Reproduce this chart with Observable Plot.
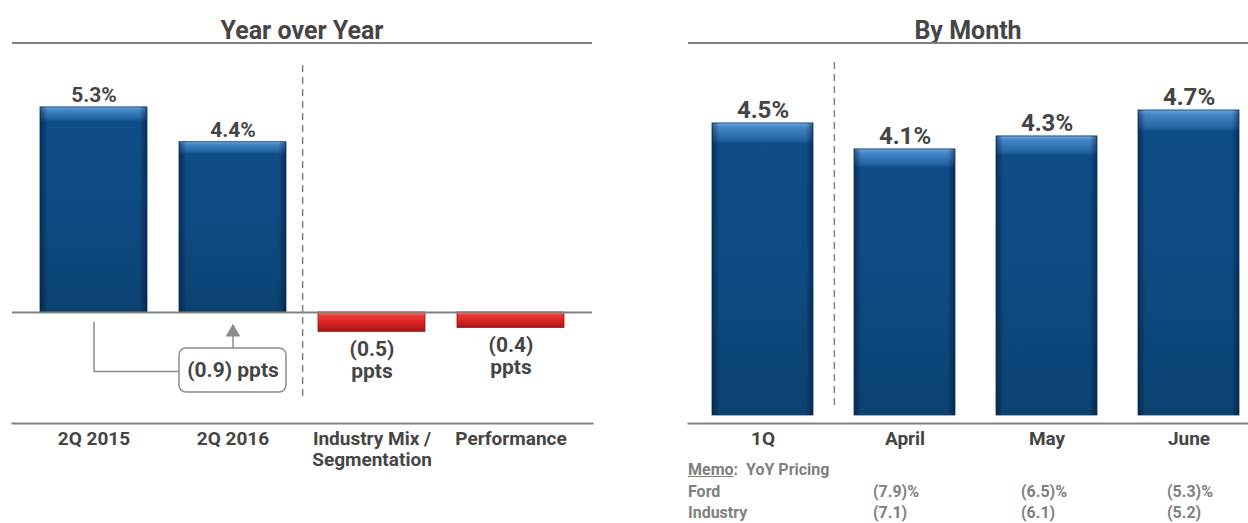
<!DOCTYPE html>
<html>
<head>
<meta charset="utf-8">
<script src="https://cdn.jsdelivr.net/npm/d3@7"></script>
<script src="https://cdn.jsdelivr.net/npm/@observablehq/plot@0.6"></script>
<style>
  html, body { margin: 0; padding: 0; background: #fff; }
  body { width: 1248px; height: 523px; position: relative; overflow: hidden;
         font-family: "Liberation Sans Narrow", "Roboto", "Liberation Sans", sans-serif; }
  .title { position: absolute; top: 16px; height: 30px; line-height: 30px; text-align: center;
           font-size: 25px; font-weight: bold; color: #454545; }
  .rule { position: absolute; top: 42px; height: 2px; background: #808080; }
  .chart { position: absolute; top: 50px; }
  .memo { position: absolute; font-size: 16px; font-weight: bold; color: #808080; white-space: nowrap; }
</style>
</head>
<body>
<div class="title" style="left:12px;width:580px;">Year over Year</div>
<div class="rule" style="left:12px;width:580px;"></div>
<div class="title" style="left:688px;width:560px;">By Month</div>
<div class="rule" style="left:688px;width:560px;"></div>
<div id="left" class="chart" style="left:0px;"></div>
<div id="right" class="chart" style="left:680px;"></div>
<div id="memo"></div>
<script>
// ---------- data ----------
const yoyCategories = ["2Q 2015", "2Q 2016", "Industry Mix / Segmentation", "Performance"];
const yoyValues = [5.3, 4.4, -0.5, -0.4];
const yoyLabels = ["5.3%", "4.4%", "(0.5)\nppts", "(0.4)\nppts"];
const yoyChangeLabel = "(0.9) ppts";

const monthCategories = ["1Q", "April", "May", "June"];
const monthValues = [4.5, 4.1, 4.3, 4.7];
const monthLabels = ["4.5%", "4.1%", "4.3%", "4.7%"];

const memoTitle = "Memo";
const memoSubtitle = "YoY Pricing";
const memoRows = ["Ford", "Industry"];
const memoFord = ["(7.9)%", "(6.5)%", "(5.3)%"];
const memoIndustry = ["(7.1)", "(6.1)", "(5.2)"];

// ---------- styles ----------
const FONT = "Liberation Sans Narrow, Roboto, Liberation Sans, sans-serif";
const TEXT = "#454545";
const GRAY = "#808080";

function gradients(prefix) {
  return () => {
    const defs = d3.create("svg:defs");
    const b = defs.append("linearGradient").attr("id", prefix + "blue")
      .attr("x1", 0).attr("y1", 0).attr("x2", 0).attr("y2", 1);
    [[0, "#6fa8dc"], [0.015, "#4486c6"], [0.055, "#2566a6"], [0.07, "#104d88"], [0.5, "#0e4a82"], [1, "#0b4272"]]
      .forEach(([o, c]) => b.append("stop").attr("offset", o).attr("stop-color", c));
    const s = defs.append("linearGradient").attr("id", prefix + "side")
      .attr("x1", 0).attr("y1", 0).attr("x2", 1).attr("y2", 0);
    [[0, "rgba(0,15,40,0.45)"], [0.07, "rgba(0,0,0,0)"], [0.93, "rgba(0,0,0,0)"], [1, "rgba(0,15,40,0.45)"]]
      .forEach(([o, c]) => s.append("stop").attr("offset", o).attr("stop-color", c));
    const r = defs.append("linearGradient").attr("id", prefix + "red")
      .attr("x1", 0).attr("y1", 0).attr("x2", 0).attr("y2", 1);
    [[0, "#f47a7a"], [0.2, "#ec3a36"], [0.55, "#d92222"], [1, "#a81616"]]
      .forEach(([o, c]) => r.append("stop").attr("offset", o).attr("stop-color", c));
    return defs.node();
  };
}

// ---------- left chart ----------
const yoy = yoyCategories.map((c, i) => ({cat: c, value: yoyValues[i], label: yoyLabels[i], pos: yoyValues[i] >= 0}));
const yoyPos = yoy.filter(d => d.pos);
const yoyNeg = yoy.filter(d => !d.pos);
const change = [{cat: yoyCategories[1], label: yoyChangeLabel}];
const leftStep = (592 - 12) / (4 - 0.232 + 2 * 0.198);

const left = Plot.plot({
  width: 600, height: 420,
  marginTop: 0, marginBottom: 47, marginLeft: 12, marginRight: 8,
  style: {fontFamily: FONT, background: "transparent", overflow: "visible"},
  x: {domain: yoyCategories, paddingInner: 0.232, paddingOuter: 0.198, axis: null},
  y: {domain: [-2.868, 6.770], axis: null},
  marks: [
    gradients("l-"),
    Plot.ruleX([yoyCategories[1]], {x: d => d, dx: leftStep / 2, y1: 6.38, y2: -2.20, stroke: GRAY, strokeWidth: 1.5, strokeDasharray: "7,5"}),
    Plot.barY(yoyPos, {x: "cat", y: "value", fill: "url(#l-blue)", stroke: "#0a3966", strokeWidth: 0.8}),
    Plot.barY(yoyPos, {x: "cat", y: "value", fill: "url(#l-side)"}),
    Plot.barY(yoyNeg, {x: "cat", y: "value", fill: "url(#l-red)", stroke: "#9a1212", strokeWidth: 0.8}),
    Plot.ruleY([0], {stroke: GRAY, strokeWidth: 2}),
    Plot.frame({anchor: "bottom", stroke: GRAY, strokeWidth: 2}),
    Plot.text(yoyPos, {x: "cat", y: "value", text: "label", lineAnchor: "bottom", dy: -5, fontSize: 21, fontWeight: "bold", fill: TEXT}),
    Plot.text(yoyNeg, {x: "cat", y: "value", text: "label", lineAnchor: "top", dy: 8, fontSize: 21, fontWeight: "bold", fill: TEXT, lineHeight: 1.05}),
    // change annotation
    Plot.line([{x: yoyCategories[0], y: -0.26}, {x: yoyCategories[0], y: -1.525}, {x: yoyCategories[1], y: -1.525}],
      {x: "x", y: "y", stroke: "#8c8c8c", strokeWidth: 1.5}),
    Plot.ruleX(change, {x: "cat", y1: -0.93, y2: -0.55, stroke: "#8c8c8c", strokeWidth: 1.5}),
    Plot.dot(change, {x: "cat", y: -0.51, symbol: "triangle", r: 5.5, fill: "#8c8c8c"}),
    Plot.barY(change, {x: "cat", y1: -0.93, y2: -2.07, fill: "white", stroke: "#8c8c8c", strokeWidth: 1.5, rx: 7}),
    Plot.text(change, {x: "cat", y: -1.50, text: "label", fontSize: 21, fontWeight: "bold", fill: TEXT}),
    Plot.axisX({anchor: "bottom", tickSize: 0, tickPadding: 7, label: null, fontSize: 19, fontWeight: "bold",
      color: TEXT, lineHeight: 1.1, tickFormat: d => d.replace(" / ", " /\n")})
  ]
});
document.getElementById("left").appendChild(left);

// ---------- right chart ----------
const months = monthCategories.map((c, i) => ({cat: c, value: monthValues[i], label: monthLabels[i]}));
const rightStep = 560 / (4 - 0.292 + 2 * 0.108);

const right = Plot.plot({
  width: 568, height: 420,
  marginTop: 0, marginBottom: 47, marginLeft: 8, marginRight: 0,
  style: {fontFamily: FONT, background: "transparent", overflow: "visible"},
  x: {domain: monthCategories, paddingInner: 0.292, paddingOuter: 0.108, align: 0.71, axis: null},
  y: {domain: [-0.1233, 5.624], axis: null},
  marks: [
    gradients("r-"),
    Plot.ruleX([monthCategories[0]], {x: d => d, dx: rightStep / 2, y1: 5.44, y2: 0.077, stroke: GRAY, strokeWidth: 1.5, strokeDasharray: "7,5"}),
    Plot.barY(months, {x: "cat", y: "value", fill: "url(#r-blue)", stroke: "#0a3966", strokeWidth: 0.8}),
    Plot.barY(months, {x: "cat", y: "value", fill: "url(#r-side)"}),
    Plot.frame({anchor: "bottom", stroke: GRAY, strokeWidth: 2}),
    Plot.text(months, {x: "cat", y: "value", text: "label", lineAnchor: "bottom", dy: -5, fontSize: 24, fontWeight: "bold", fill: TEXT}),
    Plot.axisX({anchor: "bottom", tickSize: 0, tickPadding: 7, label: null, fontSize: 19, fontWeight: "bold",
      color: TEXT, lineHeight: 1.1})
  ]
});
document.getElementById("right").appendChild(right);

// ---------- memo table ----------
const memo = document.getElementById("memo");
const colX = [873, 1021, 1167];
function addText(txt, x, y, html) {
  const el = document.createElement("div");
  el.className = "memo";
  el.style.left = x + "px";
  el.style.top = (y - 10) + "px";
  el.style.lineHeight = "20px";
  if (html) el.innerHTML = txt; else el.textContent = txt;
  memo.appendChild(el);
}
addText(`<u>${memoTitle}</u>:&nbsp; ${memoSubtitle}`, 688, 470, true);
const rowY = [492, 513];
[memoFord, memoIndustry].forEach((vals, r) => {
  addText(memoRows[r], 688, rowY[r]);
  vals.forEach((v, c) => addText(v, colX[c], rowY[r]));
});
</script>
</body>
</html>
